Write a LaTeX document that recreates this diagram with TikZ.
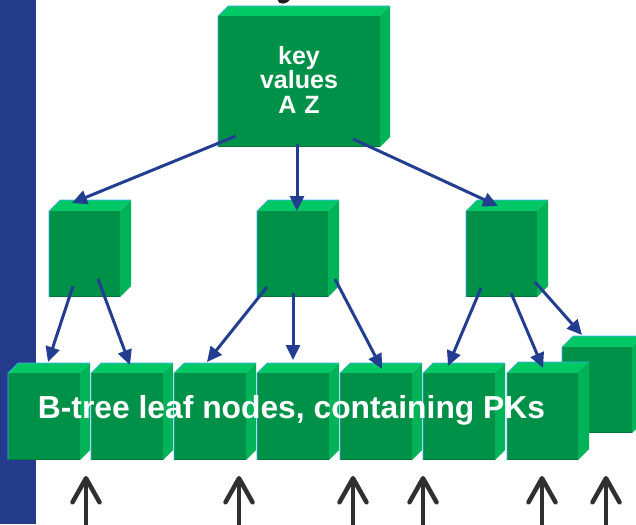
\documentclass[tikz,border=0pt]{standalone}
\usepackage{fontspec}
\setmainfont{Liberation Sans}
\usetikzlibrary{arrows.meta}

\definecolor{barblue}{RGB}{36,59,140}
\definecolor{linkblue}{RGB}{35,62,145}
\definecolor{frontgreen}{RGB}{0,145,72}
\definecolor{topgreen}{RGB}{0,200,100}
\definecolor{sidegreen}{RGB}{0,178,88}
\definecolor{basegreen}{RGB}{0,118,58}
\definecolor{rimblue}{RGB}{70,170,255}
\definecolor{pointergray}{RGB}{48,48,48}

\tikzset{
  cubetop/.style={fill=topgreen},
  cubeside/.style={fill=sidegreen},
  cubefront/.style={fill=frontgreen, draw=none, inner sep=0pt, outer sep=0pt},
  cubebase/.style={draw=basegreen, line width=1.2pt},
  cuberim/.style={draw=rimblue, line width=0.6pt},
  link/.style={draw=linkblue, line width=3pt,
    -{Triangle[length=15pt,width=14pt]}},
  pointer/.style={draw=pointergray, line width=4.5pt, line cap=round,
    -{Straight Barb[length=24pt,width=27pt,line cap=round,line join=round]}},
}

% a box with a visible top and right face; the front face is the named node
\newcommand\boxcube[6]{% name, x0, y0, width, height, depth
  \fill[cubetop] (#2,#3) -- ({#2+#6},{#3-#6}) -- ({#2+#4+#6},{#3-#6}) -- ({#2+#4},#3) -- cycle;
  \fill[cubeside] ({#2+#4},#3) -- ({#2+#4+#6},{#3-#6}) -- ({#2+#4+#6},{#3+#5-#6}) -- ({#2+#4},{#3+#5}) -- cycle;
  \node[cubefront, minimum width=#4pt, minimum height=#5pt, anchor=north west] (#1) at (#2,#3) {};
  \draw[cubebase] (#2,{#3+#5-0.6}) -- ({#2+#4},{#3+#5-0.6});
  \draw[cuberim] (#2,{#3+#5}) -- (#2,#3) -- ({#2+#6},{#3-#6}) -- ({#2+#4+#6},{#3-#6});
}

\begin{document}
\begin{tikzpicture}[x=1pt, y=-1pt]
  \useasboundingbox (0,0) rectangle (636,524);
  \clip (0,0) rectangle (636,524);

  % side bar
  \fill[barblue] (0,0) rectangle (36,524);

  % tail of a glyph from the heading above the frame
  \fill[black!88] (277.5,0) .. controls (278,2.8) and (280.5,4) .. (283.5,3.6)
        .. controls (286.5,3.2) and (288.5,1.6) .. (289.5,0) -- cycle;

  % root
  \boxcube{root}{218}{16}{162}{131}{10}
  \node[text=white, align=center, inner sep=0pt,
        font=\bfseries\fontsize{25}{24.5}\selectfont] (rootlabel) at (299,79.5)
        {key\\values\\A\hspace{8pt}Z};

  % inner level
  \boxcube{m1}{49}{211}{71}{86}{11}
  \boxcube{m2}{257}{211}{71}{86}{11}
  \boxcube{m3}{466}{211}{71}{86}{11}

  % leaf level
  \boxcube{lb}{562}{347}{70}{86}{11}
  \boxcube{l1}{8}{373}{72}{87}{10}
  \boxcube{l2}{91}{373}{72}{87}{10}
  \boxcube{l3}{174}{373}{72}{87}{10}
  \boxcube{l4}{257}{373}{72}{87}{10}
  \boxcube{l5}{340}{373}{72}{87}{10}
  \boxcube{l6}{423}{373}{72}{87}{10}
  \boxcube{l7}{507}{373}{71}{87}{11}

  % root to inner level
  \draw[link] ([shift={(18,-11)}]root.south west) -- ([shift={(23,-8)}]m1.north west);
  \draw[link] ([shift={(79,-3)}]root.south west) -- ([shift={(40,0)}]m2.north west);
  \draw[link] ([shift={(135,-8)}]root.south west) -- ([shift={(32,-5)}]m3.north west);

  % inner level to leaves
  \draw[link] ([shift={(24,-11)}]m1.south west) -- ([shift={(40,-11)}]l1.north west);
  \draw[link] ([shift={(49,-18)}]m1.south west) -- ([shift={(39,-8)}]l2.north west);
  \draw[link] ([shift={(10,-10)}]m2.south west) -- ([shift={(33,-11)}]l3.north west);
  \draw[link] ([shift={(36,-4)}]m2.south west) -- ([shift={(36,-13)}]l4.north west);
  \draw[link] ([shift={(78,-18)}]m2.south west) -- ([shift={(42,-4)}]l5.north west);
  \draw[link] ([shift={(15,-9)}]m3.south west) -- ([shift={(25,-7)}]l6.north west);
  \draw[link] ([shift={(45,-4)}]m3.south west) -- ([shift={(36,-5)}]l7.north west);
  \draw[link] ([shift={(69,-15)}]m3.south west) -- ([shift={(20,-12)}]lb.north west);

  % caption across the leaves
  \node[anchor=base, text=white, inner sep=0pt,
        font=\bfseries\fontsize{31.8}{36}\selectfont] (caption) at (291.5,418)
        {B-tree leaf nodes, containing PKs};

  % pointers into the leaf level
  \foreach \px [count=\i] in {86,239,353,423,542,606} {
    \coordinate (p\i) at (\px,532);
    \draw[pointer] (p\i) -- ++(0,-56);
  }
\end{tikzpicture}
\end{document}
